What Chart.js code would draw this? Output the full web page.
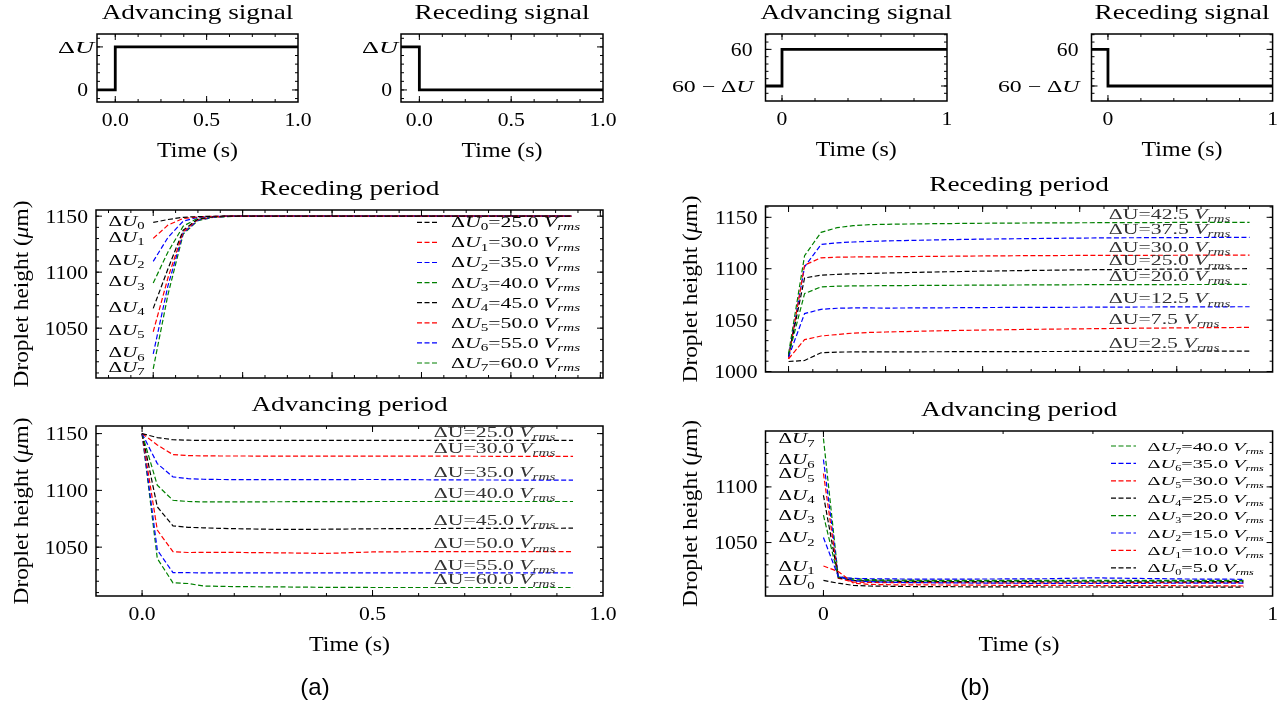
<!DOCTYPE html>
<html>
<head>
<meta charset="utf-8">
<script src="https://cdn.jsdelivr.net/npm/chart.js@4.4.1/dist/chart.umd.min.js"></script>
<style>
  html, body { margin: 0; padding: 0; background: #fff; width: 1281px; height: 709px; overflow: hidden; }
  canvas { position: absolute; left: 0; top: 0; }
</style>
</head>
<body>
<canvas id="sigA1" width="1281" height="709"></canvas>
<canvas id="sigA2" width="1281" height="709"></canvas>
<canvas id="sigB1" width="1281" height="709"></canvas>
<canvas id="sigB2" width="1281" height="709"></canvas>
<canvas id="recA" width="1281" height="709"></canvas>
<canvas id="advA" width="1281" height="709"></canvas>
<canvas id="recB" width="1281" height="709"></canvas>
<canvas id="advB" width="1281" height="709"></canvas>
<script>
// ---- data ----
const sigTime = [-0.1, 0, 0, 1.0];
const advSignal = [0, 0, 1, 1];
const recSignal = [1, 1, 0, 0];

const timeA = [0, 0.033, 0.067, 0.1, 0.133, 0.167, 0.2, 0.3, 0.4, 0.5, 0.6, 0.7, 0.8, 0.935];
const timeRecB = [0, 0.033, 0.067, 0.1, 0.133, 0.167, 0.2, 0.3, 0.4, 0.5, 0.6, 0.7, 0.8, 0.95];

const voltsA = [25, 30, 35, 40, 45, 50, 55, 60];
const voltsRecB = [2.5, 7.5, 12.5, 20, 25, 30, 37.5, 42.5];
const voltsAdvB = [5, 10, 15, 20, 25, 30, 35, 40];

// droplet height (um), one row per voltage step
const recedingA = [
  [1144.4, 1147.0, 1149.0, 1149.6, 1149.9, 1150, 1150, 1150, 1150, 1150, 1150, 1150, 1150, 1150],
  [1130.2, 1142.0, 1148.0, 1149.3, 1149.8, 1150, 1150, 1150, 1150, 1150, 1150, 1150, 1150, 1150],
  [1109.6, 1131.0, 1145.5, 1149.0, 1149.7, 1150, 1150, 1150, 1150, 1150, 1150, 1150, 1150, 1150],
  [1090.4, 1118.0, 1141.0, 1148.3, 1149.5, 1150, 1150, 1150, 1150, 1150, 1150, 1150, 1150, 1150],
  [1067.7, 1103.0, 1137.5, 1147.5, 1149.4, 1150, 1150, 1150, 1150, 1150, 1150, 1150, 1150, 1150],
  [1046.8, 1095.0, 1136.0, 1147.0, 1149.2, 1150, 1150, 1150, 1150, 1150, 1150, 1150, 1150, 1150],
  [1027.0, 1088.0, 1135.0, 1146.5, 1149.0, 1149.8, 1150, 1150, 1150, 1150, 1150, 1150, 1150, 1150],
  [1013.7, 1080.0, 1134.0, 1146.0, 1148.8, 1149.6, 1150, 1150, 1150, 1150, 1150, 1150, 1150, 1150]
];
const advancingA = [
  [1150, 1146.5, 1144.6, 1144.2, 1144.0, 1144.0, 1144.0, 1144.0, 1144.0, 1144.1, 1144.1, 1144.1, 1144.0, 1144.0],
  [1150, 1140.0, 1131.5, 1130.6, 1130.4, 1130.3, 1130.3, 1130.2, 1130.2, 1130.2, 1130.1, 1130.1, 1130.0, 1130.0],
  [1150, 1123.6, 1111.9, 1110.3, 1109.8, 1109.6, 1109.5, 1109.4, 1109.5, 1109.6, 1109.4, 1109.2, 1109.1, 1109.0],
  [1150, 1104.5, 1091.3, 1090.2, 1089.8, 1089.8, 1089.9, 1090.0, 1090.1, 1090.2, 1090.2, 1090.3, 1090.2, 1090.2],
  [1150, 1085.5, 1068.8, 1067.5, 1067.0, 1066.6, 1066.3, 1065.6, 1065.8, 1066.2, 1066.4, 1066.5, 1066.6, 1066.7],
  [1150, 1065.0, 1046.0, 1045.3, 1045.4, 1045.5, 1045.4, 1045.0, 1044.5, 1045.8, 1046.0, 1046.0, 1046.0, 1046.0],
  [1150, 1047.4, 1027.6, 1027.5, 1027.4, 1027.4, 1027.4, 1027.4, 1027.4, 1027.3, 1027.3, 1027.3, 1027.4, 1027.4],
  [1150, 1040.0, 1018.6, 1018.0, 1015.8, 1015.5, 1015.3, 1015.0, 1014.6, 1014.5, 1014.5, 1014.5, 1014.5, 1014.5]
];
const recedingB = [
  [1009.7, 1010.7, 1018.2, 1018.9, 1019.0, 1019.1, 1019.1, 1019.2, 1019.3, 1019.4, 1019.5, 1019.6, 1019.7, 1019.8],
  [1012.3, 1031.0, 1034.5, 1036.0, 1037.3, 1038.0, 1038.4, 1039.5, 1040.3, 1041.0, 1041.5, 1042.0, 1042.4, 1042.9],
  [1014.0, 1056.3, 1060.5, 1061.5, 1061.8, 1061.8, 1061.7, 1061.9, 1062.2, 1062.4, 1062.5, 1062.7, 1062.8, 1063.0],
  [1015.6, 1075.8, 1082.3, 1083.0, 1083.3, 1083.4, 1083.5, 1083.8, 1084.0, 1084.2, 1084.4, 1084.5, 1084.6, 1084.7],
  [1015.0, 1091.0, 1093.7, 1094.5, 1095.0, 1095.4, 1095.8, 1096.8, 1097.6, 1098.3, 1098.9, 1099.3, 1099.6, 1100.0],
  [1012.3, 1103.5, 1110.6, 1111.2, 1111.4, 1111.5, 1111.6, 1112.0, 1112.4, 1112.7, 1112.9, 1113.0, 1113.1, 1113.3],
  [1014.0, 1101.8, 1123.6, 1125.2, 1126.0, 1126.6, 1127.0, 1128.0, 1128.8, 1129.3, 1129.8, 1130.1, 1130.3, 1130.5],
  [1017.2, 1112.6, 1135.4, 1139.9, 1141.9, 1142.8, 1143.2, 1143.8, 1144.2, 1144.5, 1144.7, 1144.8, 1145.0, 1145.1]
];
const advancingB = [
  [1016.0, 1013.5, 1011.5, 1011.0, 1010.8, 1010.6, 1010.5, 1010.3, 1010.2, 1010.1, 1010.1, 1010.0, 1010.0, 1010.0],
  [1029.0, 1024.0, 1013.5, 1012.5, 1012.2, 1012.0, 1012.0, 1011.8, 1011.6, 1011.5, 1011.4, 1011.4, 1011.2, 1011.0],
  [1054.5, 1019.5, 1015.5, 1015.0, 1014.5, 1014.2, 1014.0, 1013.7, 1013.5, 1013.3, 1013.3, 1013.4, 1013.5, 1013.5],
  [1074.6, 1019.0, 1016.3, 1016.0, 1015.8, 1015.7, 1015.6, 1015.6, 1015.5, 1015.5, 1015.5, 1015.5, 1015.6, 1015.5],
  [1092.5, 1018.5, 1016.0, 1015.5, 1015.3, 1015.2, 1015.1, 1015.0, 1015.0, 1014.8, 1014.8, 1014.8, 1014.8, 1015.0],
  [1112.0, 1018.0, 1014.5, 1014.2, 1014.0, 1014.0, 1014.0, 1014.0, 1013.8, 1013.8, 1013.8, 1014.0, 1014.0, 1014.0],
  [1124.6, 1019.0, 1017.8, 1017.5, 1017.4, 1017.3, 1017.2, 1017.2, 1017.3, 1017.5, 1018.3, 1017.8, 1017.3, 1017.0],
  [1143.5, 1019.5, 1017.5, 1016.8, 1016.5, 1016.3, 1016.2, 1016.0, 1016.0, 1016.0, 1016.0, 1016.0, 1016.0, 1016.0]
];

// ---- look ----
const W = 1281, H = 709;
const SX = 1.14;      // widen Liberation Serif a little towards Computer Modern
const MATH_SX = 1.5;  // math labels in the figure run much wider
const SERIF = '"Liberation Serif", "Times New Roman", serif';
const lineColors = ['#000000', '#ff0000', '#0000ff', '#008000'];

// text made of pieces: [text, flags]  i = italic, s = subscript
function drawParts(ctx, parts, x, y, o) {
  const size = o.size || 20, sub = o.sub || 0.7, sx = o.sx || SX;
  const fam = o.family || SERIF;
  const fnt = (f, s) => (f.includes('i') ? 'italic ' : '') + s.toFixed(1) + 'px ' + fam;
  ctx.save();
  ctx.translate(x, y);
  if (o.rot) ctx.rotate(o.rot);
  ctx.scale(sx, 1);
  ctx.fillStyle = o.color || '#000';
  ctx.textBaseline = 'alphabetic';
  ctx.textAlign = 'left';
  const items = parts.map(p => {
    const f = p[1] || '';
    const s = f.includes('s') ? size * sub : size;
    ctx.font = fnt(f, s);
    return { t: p[0], f, s, w: ctx.measureText(p[0]).width };
  });
  const total = items.reduce((a, b) => a + b.w, 0);
  let cx = o.align === 'right' ? -total : o.align === 'left' ? 0 : -total / 2;
  const base = o.valign === 'middle' ? size * 0.34 : 0;
  for (const it of items) {
    ctx.font = fnt(it.f, it.s);
    ctx.fillText(it.t, cx, base + (it.f.includes('s') ? size * 0.22 : 0));
    cx += it.w;
  }
  ctx.restore();
}

const asParts = l => typeof l === 'string' ? [[l]] : l;
const dU = i => [['Δ'], ['U', 'i'], [String(i), 's']];
const vrms = [['V', 'i'], ['rms', 'si']];
const legendParts = (i, v) => [...dU(i), ['=' + v.toFixed(1) + ' '], ...vrms];
const noteParts = v => [['ΔU=' + v.toFixed(1) + ' '], ...vrms];
const heightLabel = [['Droplet height ('], ['μ', 'i'], ['m)']];

function steps(a, b, s) {
  const out = [];
  for (let v = a; v <= b + 1e-9; v += s) out.push(+v.toFixed(4));
  return out;
}

const panels = {};

const panelPlugin = {
  id: 'panel',
  afterDraw(chart) {
    const o = panels[chart.canvas.id];
    const { ctx, chartArea: a, scales: { x, y } } = chart;
    ctx.save();
    ctx.strokeStyle = '#000';
    ctx.lineWidth = 1;
    ctx.beginPath();
    const xt = [[o.xMinor, 3], [o.xMajor.map(m => m[0]), 6]];
    for (const [list, len] of xt) {
      for (const v of list) {
        const px = x.getPixelForValue(v);
        if (px < a.left + 0.5 || px > a.right - 0.5) continue;
        ctx.moveTo(px, a.bottom); ctx.lineTo(px, a.bottom - len);
        ctx.moveTo(px, a.top); ctx.lineTo(px, a.top + len);
      }
    }
    const yt = [[o.yMinor, 3], [o.yMajor.map(m => m[0]), 6]];
    for (const [list, len] of yt) {
      for (const v of list) {
        const py = y.getPixelForValue(v);
        if (py < a.top + 0.5 || py > a.bottom - 0.5) continue;
        ctx.moveTo(a.left, py); ctx.lineTo(a.left + len, py);
        ctx.moveTo(a.right, py); ctx.lineTo(a.right - len, py);
      }
    }
    ctx.stroke();
    ctx.lineWidth = 1.5;
    ctx.strokeRect(a.left, a.top, a.right - a.left, a.bottom - a.top);
    ctx.restore();

    const cxm = (a.left + a.right) / 2, cym = (a.top + a.bottom) / 2;
    for (const [v, l] of o.xMajor) {
      if (l === '') continue;
      drawParts(ctx, asParts(l), x.getPixelForValue(v), a.bottom + 18, { size: 19, valign: 'middle' });
    }
    for (const [v, l] of o.yMajor) {
      if (l === '') continue;
      const rich = typeof l !== 'string';
      drawParts(ctx, asParts(l), a.left - (rich ? o.richPad : o.yPad || 8), y.getPixelForValue(v),
        { size: rich ? 17 : 19, sx: rich ? o.richSx : SX, valign: 'middle', align: 'right' });
    }
    if (o.title) drawParts(ctx, [[o.title]], cxm, a.top - 22, { size: 22, sx: 1.24, valign: 'middle' });
    if (o.xlabel) drawParts(ctx, [[o.xlabel]], cxm, a.bottom + 48, { size: 21, valign: 'middle' });
    if (o.ylabel) drawParts(ctx, o.ylabel, a.left - 75, cym, { size: 20.5, valign: 'middle', rot: -Math.PI / 2 });

    for (const n of o.notes || []) {
      drawParts(ctx, n.parts, x.getPixelForValue(n.x), y.getPixelForValue(n.y) + (n.dy || 0),
        { size: n.size, sx: n.sx, align: 'left', valign: n.valign, color: n.color });
    }

    const lg = o.legend;
    if (lg) {
      lg.order.forEach((k, r) => {
        const ds = chart.data.datasets[k];
        const ry = a.top + lg.top + r * lg.dy;
        ctx.save();
        ctx.strokeStyle = ds.borderColor;
        ctx.lineWidth = 1.2;
        ctx.setLineDash([5, 2.5]);
        ctx.beginPath();
        ctx.moveTo(a.right - lg.x0, ry);
        ctx.lineTo(a.right - lg.x1, ry);
        ctx.stroke();
        ctx.restore();
        drawParts(ctx, lg.parts[k], a.right - lg.tx, ry,
          { size: lg.size, sub: lg.sub, sx: MATH_SX, align: 'left', valign: 'middle' });
      });
    }
    if (o.caption) {
      drawParts(ctx, [[o.caption.text]], o.caption.x, o.caption.y,
        { size: 24, valign: 'middle', sx: 1, family: '"Liberation Sans", Arial, sans-serif' });
    }
  }
};

function series(times, rows) {
  return rows.map((vals, i) => ({
    data: times.map((t, j) => ({ x: t, y: vals[j] })),
    borderColor: lineColors[i % 4],
    borderWidth: 1.2,
    borderDash: [5, 2.5],
    pointRadius: 0,
    tension: 0,
    fill: false
  }));
}

function signal(vals) {
  return [{
    data: sigTime.map((t, j) => ({ x: t, y: vals[j] })),
    borderColor: '#000',
    borderWidth: 2.8,
    pointRadius: 0,
    tension: 0,
    fill: false
  }];
}

function makeChart(id, frame, xr, yr, datasets, panel) {
  panels[id] = panel;
  return new Chart(document.getElementById(id), {
    type: 'line',
    data: { datasets },
    options: {
      responsive: false,
      animation: false,
      events: [],
      layout: { padding: { left: frame[0], top: frame[1], right: W - frame[2], bottom: H - frame[3] } },
      scales: {
        x: {
          type: 'linear', min: xr[0], max: xr[1],
          ticks: { display: false }, grid: { display: false }, border: { display: false },
          afterFit: s => { s.height = 0; }
        },
        y: {
          type: 'linear', min: yr[0], max: yr[1],
          ticks: { display: false }, grid: { display: false }, border: { display: false },
          afterFit: s => { s.width = 0; }
        }
      },
      plugins: { legend: { display: false }, tooltip: { enabled: false } }
    },
    plugins: [panelPlugin]
  });
}

// ---- signal panels ----
const sigAx = {
  xMajor: [[0, '0.0'], [0.5, '0.5'], [1, '1.0']], xMinor: steps(0, 1, 0.125),
  yMajor: [[0, '0'], [1, [['Δ'], ['U', 'i']]]], yMinor: steps(-0.2, 1.2, 0.2),
  xlabel: 'Time (s)', richSx: 1.55, richPad: 3, yPad: 9
};
const sigBx = {
  xMajor: [[0, '0'], [1, '1']], xMinor: steps(0, 1, 0.2),
  yMajor: [[0, [['60 − Δ'], ['U', 'i']]], [1, '60']], yMinor: steps(-0.4, 1.4, 0.2),
  xlabel: 'Time (s)', richSx: 1.4, richPad: 12, yPad: 13
};
makeChart('sigA1', [97, 34, 298, 102], [-0.1, 1.0], [-0.28, 1.3], signal(advSignal), { ...sigAx, title: 'Advancing signal' });
makeChart('sigA2', [401, 34, 603, 102], [-0.1, 1.0], [-0.28, 1.3], signal(recSignal), { ...sigAx, title: 'Receding signal' });
makeChart('sigB1', [765.5, 34, 947, 101], [-0.1, 1.0], [-0.41, 1.42], signal(advSignal), { ...sigBx, title: 'Advancing signal' });
makeChart('sigB2', [1091.5, 34, 1272.6, 101], [-0.1, 1.0], [-0.41, 1.42], signal(recSignal), { ...sigBx, title: 'Receding signal' });

// ---- column (a) ----
const yTicksA = [[1050, '1050'], [1100, '1100'], [1150, '1150']];
makeChart('recA', [96, 210, 603, 378], [-0.128, 1.006], [1005.5, 1155.5], series(timeA, recedingA), {
  title: 'Receding period', ylabel: heightLabel,
  xMajor: steps(0, 1, 0.2).map(v => [v, '']), xMinor: steps(-0.1, 1, 0.05),
  yMajor: yTicksA, yMinor: steps(1010, 1150, 10),
  notes: recedingA.map((r, i) => ({ x: -0.1, y: r[0], parts: dU(i), size: 14.5, sx: 1.45, valign: 'middle', dy: -1.5 })),
  legend: { order: [0, 1, 2, 3, 4, 5, 6, 7], top: 12.3, dy: 20.1, x0: 186, x1: 164, tx: 152, size: 14.5, sub: 0.7,
    parts: voltsA.map((v, i) => legendParts(i, v)) }
});
makeChart('advA', [96, 426, 603, 596], [-0.1, 1.0], [1007, 1156.7], series(timeA, advancingA), {
  title: 'Advancing period', ylabel: heightLabel, xlabel: 'Time (s)',
  xMajor: [[0, '0.0'], [0.5, '0.5'], [1, '1.0']], xMinor: steps(0, 1, 0.1),
  yMajor: yTicksA, yMinor: steps(1010, 1150, 10),
  notes: advancingA.map((r, i) => ({ x: 0.633, y: r[r.length - 1], parts: noteParts(voltsA[i]), size: 14.5, sx: MATH_SX, dy: -3.3, color: '#333' })),
  caption: { text: '(a)', x: 315, y: 687 }
});

// ---- column (b) ----
makeChart('recB', [765.5, 206, 1272.6, 372], [-0.0475, 0.9975], [999.5, 1161], series(timeRecB, recedingB), {
  title: 'Receding period', ylabel: heightLabel,
  xMajor: steps(0, 0.8, 0.2).map(v => [v, '']), xMinor: steps(0, 0.95, 0.05),
  yMajor: [[1000, '1000'], [1050, '1050'], [1100, '1100'], [1150, '1150']], yMinor: steps(1000, 1160, 10),
  notes: recedingB.map((r, i) => ({ x: 0.66, y: r[r.length - 1], parts: noteParts(voltsRecB[i]), size: 14.5, sx: MATH_SX, dy: -3.3, color: '#333' }))
});
makeChart('advB', [765.5, 431, 1272.6, 596], [-0.129, 1.0], [1002, 1150.2], series(timeA, advancingB), {
  title: 'Advancing period', ylabel: heightLabel, xlabel: 'Time (s)',
  xMajor: [[0, '0'], [1, '1']], xMinor: steps(-0.2, 1, 0.2),
  yMajor: [[1050, '1050'], [1100, '1100']], yMinor: steps(1010, 1140, 10),
  notes: advancingB.map((r, i) => ({ x: -0.1, y: r[0], parts: dU(i), size: 14.5, sx: 1.45, valign: 'middle', dy: 0 })),
  legend: { order: [7, 6, 5, 4, 3, 2, 1, 0], top: 15, dy: 17.4, x0: 161.6, x1: 136.6, tx: 125, size: 13.5, sub: 0.6,
    parts: voltsAdvB.map((v, i) => legendParts(i, v)) },
  caption: { text: '(b)', x: 975, y: 687 }
});
</script>
</body>
</html>
